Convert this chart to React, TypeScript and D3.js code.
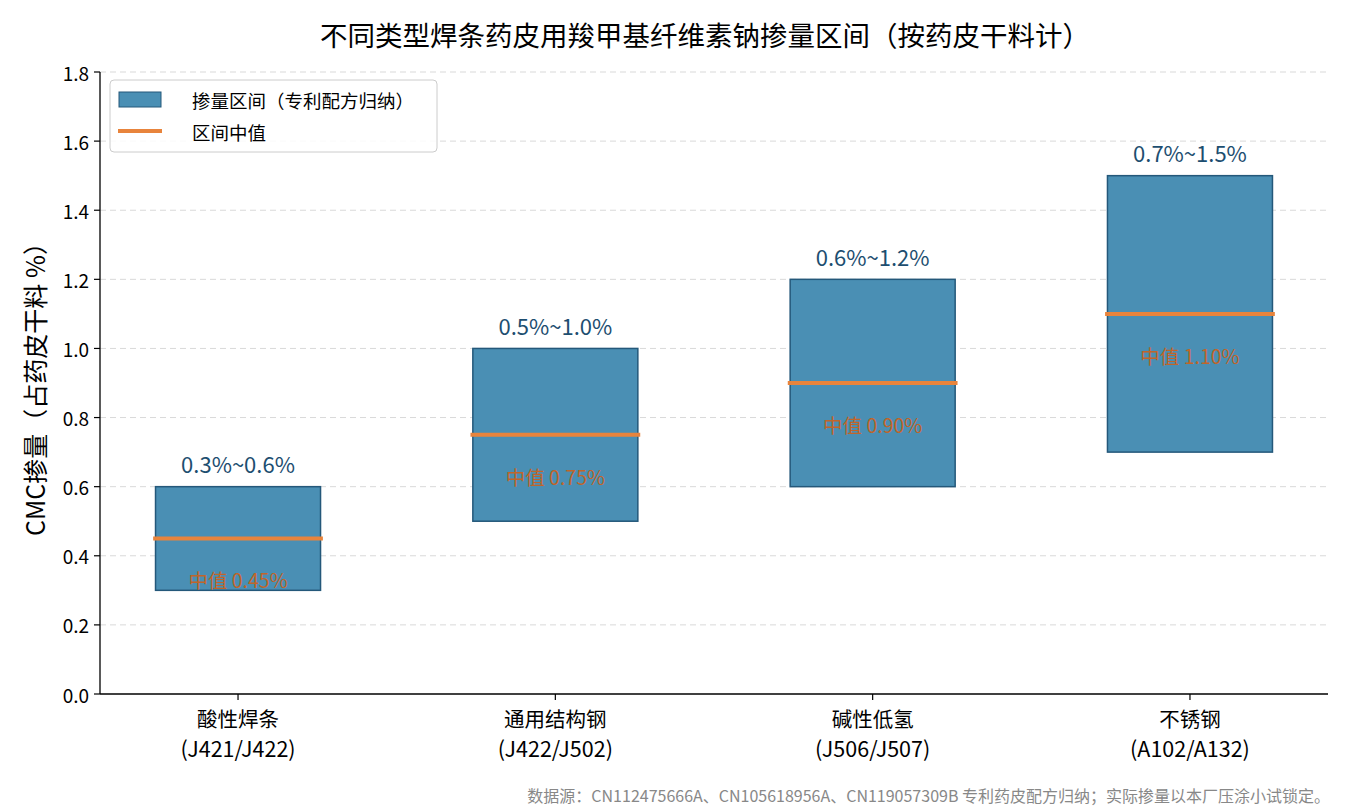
import React, { useEffect } from "react";
import * as d3 from "d3";

// 数据：各类焊条的CMC掺量区间（占药皮干料 %）
const categories = ["酸性焊条", "通用结构钢", "碱性低氢", "不锈钢"];
const codes = ["(J421/J422)", "(J422/J502)", "(J506/J507)", "(A102/A132)"];
const lows = [0.3, 0.5, 0.6, 0.7];
const highs = [0.6, 1.0, 1.2, 1.5];
const yTicks = [0, 0.2, 0.4, 0.6, 0.8, 1.0, 1.2, 1.4, 1.6, 1.8];

const W = 1350;
const H = 810;
const FONT = "'Noto Sans CJK SC', 'Noto Sans', sans-serif";

const App: React.FC = () => {
  useEffect(() => {
    document.body.style.margin = "0";
  }, []);

  const x = d3.scaleLinear().domain([-0.435, 3.435]).range([100, 1328]);
  const y = d3.scaleLinear().domain([0, 1.8]).range([694, 72]);
  const barW = x(0.52) - x(0);
  const lineW = x(0.535) - x(0);
  const fmt = d3.format(".1f");

  return (
    <svg width={W} height={H} style={{ display: "block", fontFamily: FONT }}>
      <rect width={W} height={H} fill="#fff" />

      {/* grid */}
      {yTicks.slice(1).map((t) => (
        <line
          key={"g" + t}
          x1={100}
          x2={1328}
          y1={y(t)}
          y2={y(t)}
          stroke="#d9d9d9"
          strokeDasharray="6,4"
          strokeWidth={1}
        />
      ))}

      {/* bars */}
      {categories.map((c, i) => {
        const mid = (lows[i] + highs[i]) / 2;
        return (
          <g key={c}>
            <rect
              x={x(i) - barW / 2}
              y={y(highs[i])}
              width={barW}
              height={y(lows[i]) - y(highs[i])}
              fill="#4a8fb4"
              stroke="#24587a"
              strokeWidth={1.5}
            />
            <line
              x1={x(i) - lineW / 2}
              x2={x(i) + lineW / 2}
              y1={y(mid)}
              y2={y(mid)}
              stroke="#e8843c"
              strokeWidth={4}
            />
            <text
              x={x(i)}
              y={y(highs[i] + 0.04)}
              textAnchor="middle"
              fontSize={22}
              fill="#1d4e70"
            >
              {`${lows[i]}%~${highs[i].toFixed(1)}%`}
            </text>
            <text
              x={x(i)}
              y={y(mid - 0.12)}
              textAnchor="middle"
              dominantBaseline="central"
              fontSize={19.5}
              fill="#c0652a"
            >
              {`中值 ${mid.toFixed(2)}%`}
            </text>
          </g>
        );
      })}

      {/* axes */}
      <line x1={100} x2={100} y1={72} y2={694} stroke="#000" strokeWidth={1.3} />
      <line x1={100} x2={1328} y1={694} y2={694} stroke="#000" strokeWidth={1.3} />
      {yTicks.map((t) => (
        <g key={"y" + t}>
          <line x1={94} x2={100} y1={y(t)} y2={y(t)} stroke="#000" strokeWidth={1.2} />
          <text
            x={89}
            y={y(t)}
            textAnchor="end"
            dominantBaseline="central"
            fontSize={19}
            fill="#000"
          >
            {fmt(t)}
          </text>
        </g>
      ))}
      {categories.map((c, i) => (
        <g key={"x" + c}>
          <line x1={x(i)} x2={x(i)} y1={694} y2={700} stroke="#000" strokeWidth={1.2} />
          <text x={x(i)} y={727} textAnchor="middle" fontSize={20.5} fill="#000">
            {c}
          </text>
          <text x={x(i)} y={757} textAnchor="middle" fontSize={21.5} fill="#000">
            {codes[i]}
          </text>
        </g>
      ))}

      {/* y label */}
      <text
        transform={`translate(45,${(72 + 694) / 2}) rotate(-90)`}
        textAnchor="middle"
        fontSize={25}
        fill="#000"
      >
        CMC掺量（占药皮干料 %）
      </text>

      {/* title */}
      <text x={705} y={46} textAnchor="middle" fontSize={27.5} fill="#000">
        不同类型焊条药皮用羧甲基纤维素钠掺量区间（按药皮干料计）
      </text>

      {/* legend */}
      <g>
        <rect
          x={110}
          y={80}
          width={327}
          height={72}
          rx={4}
          fill="#fff"
          fillOpacity={0.85}
          stroke="#cccccc"
        />
        <rect x={119} y={92} width={42} height={15} fill="#4a8fb4" stroke="#24587a" />
        <text x={192} y={100} dominantBaseline="central" fontSize={18.5} fill="#000">
          掺量区间（专利配方归纳）
        </text>
        <line x1={118} x2={162} y1={131} y2={131} stroke="#e8843c" strokeWidth={4} />
        <text x={192} y={132} dominantBaseline="central" fontSize={18.5} fill="#000">
          区间中值
        </text>
      </g>

      {/* footer */}
      <text x={1330} y={802} textAnchor="end" fontSize={16} fill="#888">
        数据源：CN112475666A、CN105618956A、CN119057309B 专利药皮配方归纳；实际掺量以本厂压涂小试锁定。
      </text>
    </svg>
  );
};

export default App;
